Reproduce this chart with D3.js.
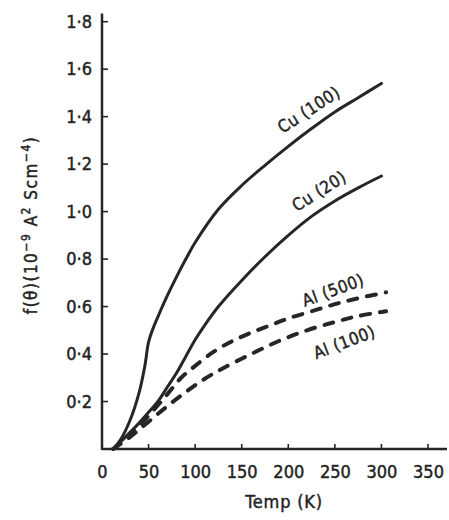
<!DOCTYPE html>
<html>
<head>
<meta charset="utf-8">
<script src="https://cdn.jsdelivr.net/npm/d3@7"></script>
<style>
  body { margin: 0; background: #fff; }
  text { font-family: "DejaVu Sans Condensed", "DejaVu Sans", sans-serif; fill: #222; }
</style>
</head>
<body>
<div id="chart"></div>
<script>
// Temperature (K) and f(theta) values, one pair of arrays per curve
var cu100T = [12, 20, 30, 40, 46, 50, 55, 62, 70, 80, 90, 100, 125, 150, 175, 200, 225, 250, 275, 300];
var cu100V = [0, 0.04, 0.12, 0.24, 0.35, 0.45, 0.51, 0.575, 0.645, 0.725, 0.80, 0.87, 1.01, 1.11, 1.195, 1.275, 1.35, 1.42, 1.48, 1.54];

var cu20T = [12, 20, 30, 40, 50, 60, 70, 80, 90, 100, 110, 125, 150, 175, 200, 225, 250, 275, 300];
var cu20V = [0, 0.03, 0.07, 0.11, 0.155, 0.20, 0.26, 0.32, 0.39, 0.46, 0.52, 0.60, 0.71, 0.81, 0.90, 0.98, 1.045, 1.10, 1.15];

var al500T = [12, 30, 50, 70, 85, 100, 120, 140, 160, 180, 200, 225, 250, 275, 305];
var al500V = [0, 0.06, 0.14, 0.23, 0.30, 0.35, 0.41, 0.455, 0.49, 0.52, 0.55, 0.58, 0.61, 0.635, 0.66];

var al100T = [12, 30, 50, 70, 90, 110, 130, 160, 190, 220, 250, 275, 305];
var al100V = [0, 0.05, 0.115, 0.18, 0.24, 0.295, 0.34, 0.40, 0.455, 0.50, 0.535, 0.56, 0.58];

var xTicks = [0, 50, 100, 150, 200, 250, 300, 350];
var yTicks = [0.2, 0.4, 0.6, 0.8, 1.0, 1.2, 1.4, 1.6, 1.8];

var series = [
	{name: "Cu (100)", t: cu100T, v: cu100V, dashed: false},
	{name: "Cu (20)", t: cu20T, v: cu20V, dashed: false},
	{name: "Al (500)", t: al500T, v: al500V, dashed: true},
	{name: "Al (100)", t: al100T, v: al100V, dashed: true}
];

// where the curve names sit (data units) and their slant
var labelPos = {
	"Cu (100)": {t: 222, v: 1.43, rot: -33},
	"Cu (20)": {t: 233, v: 1.087, rot: -32},
	"Al (500)": {t: 248, v: 0.67, rot: -20},
	"Al (100)": {t: 260, v: 0.45, rot: -21}
};

var W = 449, H = 520;
var ink = "#262626";

var svg = d3.select("#chart").append("svg")
	.attr("width", W)
	.attr("height", H);

var xScale = d3.scaleLinear().domain([0, 350]).range([102, 428]);
var yScale = d3.scaleLinear().domain([0, 1.8]).range([449, 21.7]);

// lettering in the original is a bit heavier than a book weight
function heavy(sel) {
	sel.attr("fill", ink).style("stroke", ink).style("stroke-width", 0.45);
}

// x axis: ticks point up into the plot
var xAxis = d3.axisBottom(xScale)
	.tickValues(xTicks)
	.tickSize(0)
	.tickPadding(16)
	.tickFormat(d3.format("d"));

var gx = svg.append("g")
	.attr("transform", "translate(0," + yScale(0) + ")")
	.call(xAxis);
gx.select(".domain").remove();
gx.selectAll("text").style("font-size", "18px").call(heavy);

svg.append("line")
	.attr("x1", xScale(0)).attr("x2", 447)
	.attr("y1", yScale(0)).attr("y2", yScale(0))
	.attr("stroke", ink).attr("stroke-width", 2.5);

svg.selectAll(".xtick")
	.data(xTicks.filter(function(d) { return d > 0; }))
	.enter().append("line")
	.attr("class", "xtick")
	.attr("x1", function(d) { return xScale(d); })
	.attr("x2", function(d) { return xScale(d); })
	.attr("y1", yScale(0))
	.attr("y2", yScale(0) - 5)
	.attr("stroke", ink).attr("stroke-width", 1.6);

// y axis: ticks point right
var yAxis = d3.axisLeft(yScale)
	.tickValues(yTicks)
	.tickSize(0)
	.tickPadding(10)
	.tickFormat(function(d) { return d3.format(".1f")(d).replace(".", "·"); });

var gy = svg.append("g")
	.attr("transform", "translate(" + xScale(0) + ",0)")
	.call(yAxis);
gy.select(".domain").remove();
gy.selectAll("text").style("font-size", "18px").call(heavy);

svg.append("line")
	.attr("x1", xScale(0)).attr("x2", xScale(0))
	.attr("y1", yScale(0) + 1).attr("y2", yScale(1.835))
	.attr("stroke", ink).attr("stroke-width", 2.5);

svg.selectAll(".ytick")
	.data(yTicks)
	.enter().append("line")
	.attr("class", "ytick")
	.attr("x1", xScale(0))
	.attr("x2", xScale(0) + 6)
	.attr("y1", function(d) { return yScale(d); })
	.attr("y2", function(d) { return yScale(d); })
	.attr("stroke", ink).attr("stroke-width", 1.6);

// axis titles
svg.append("text")
	.attr("x", 284)
	.attr("y", 508)
	.attr("text-anchor", "middle")
	.style("font-size", "18px")
	.style("letter-spacing", "0.8px")
	.call(heavy)
	.text("Temp (K)");

var ylab = svg.append("text")
	.attr("transform", "translate(37,225) rotate(-90)")
	.attr("text-anchor", "middle")
	.style("font-size", "17px")
	.style("letter-spacing", "1.5px")
	.call(heavy);
ylab.append("tspan").text("f(θ)(10");
ylab.append("tspan").attr("dy", -7).style("font-size", "12px").text("−9");
ylab.append("tspan").attr("dy", 7).text(" A");
ylab.append("tspan").attr("dy", -7).style("font-size", "12px").text("2");
ylab.append("tspan").attr("dy", 7).text(" Scm");
ylab.append("tspan").attr("dy", -7).style("font-size", "12px").text("−4");
ylab.append("tspan").attr("dy", 7).text(")");

// curves
var line = d3.line()
	.x(function(d) { return xScale(d[0]); })
	.y(function(d) { return yScale(d[1]); })
	.curve(d3.curveCatmullRom.alpha(0.5));

series.forEach(function(s) {
	var pts = s.t.map(function(t, i) { return [t, s.v[i]]; });
	svg.append("path")
		.datum(pts)
		.attr("d", line)
		.attr("fill", "none")
		.attr("stroke", ink)
		.attr("stroke-width", s.dashed ? 4 : 3)
		.attr("stroke-linecap", "round")
		.attr("stroke-dasharray", s.dashed ? "9,10" : null);

	var p = labelPos[s.name];
	svg.append("text")
		.attr("transform", "translate(" + xScale(p.t) + "," + yScale(p.v) + ") rotate(" + p.rot + ")")
		.attr("text-anchor", "middle")
		.attr("dominant-baseline", "central")
		.style("font-size", "17px")
		.style("letter-spacing", "0.5px")
		.call(heavy)
		.text(s.name);
});
</script>
</body>
</html>
